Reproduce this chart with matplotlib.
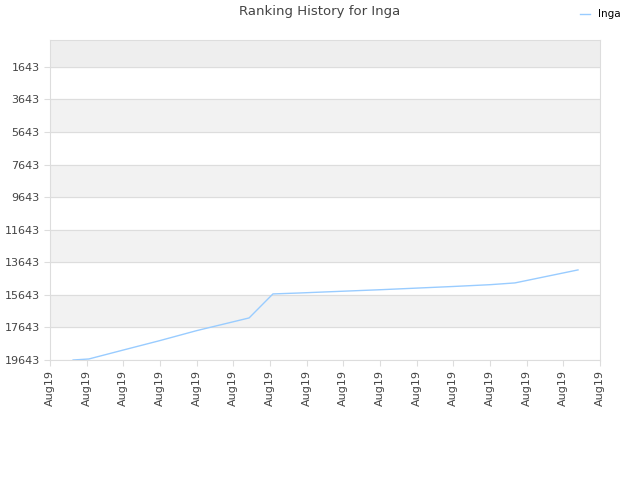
import matplotlib
matplotlib.use("Agg")
import matplotlib.pyplot as plt

# ranking data (x in tick units, y = rank)
days = [0.63, 1.06, 2.0, 3.0, 4.0, 5.43, 6.08, 6.8, 8.0, 9.0, 10.0, 11.0, 12.0, 12.68, 14.4]
ranks = [19643, 19580, 19030, 18450, 17840, 17061, 15587, 15530, 15420, 15330, 15230, 15130, 15020, 14911, 14113]
yticks = [1643, 3643, 5643, 7643, 9643, 11643, 13643, 15643, 17643, 19643]
xlabels = ["Aug19"] * 16

fig = plt.figure(figsize=(6.4, 4.8), dpi=100)
ax = fig.add_axes([50 / 640, 120 / 480, 550 / 640, 320 / 480])

ax.set_ylim(19643, 0)
ax.set_xlim(0, 15)

# alternating bands
ax.axhspan(0, 1643, color="#eeeeee", zorder=0)
for lo in range(3643, 19643, 4000):
    ax.axhspan(lo, lo + 2000, color="#f2f2f2", zorder=0)
for t in yticks:
    ax.axhline(t, color="#dddddd", lw=0.8, zorder=1)

ax.plot(days, ranks, color="#99ccff", lw=1, label="Inga", zorder=3)

ax.set_yticks(yticks)
ax.set_yticklabels([str(t) for t in yticks])
ax.set_xticks(range(16))
ax.set_xticklabels(xlabels, rotation=90)
ax.tick_params(colors="#444444", labelsize=8, length=4, color="#dddddd")
for s in ax.spines.values():
    s.set_color("#dddddd")

fig.suptitle("Ranking History for Inga", y=0.99, fontsize=9.5, color="#444444")
fig.legend(loc="upper right", bbox_to_anchor=(0.985, 1.0), frameon=False,
           fontsize=7.5, handlelength=1.0, handletextpad=0.8)

fig.savefig("out.png", dpi=100)
